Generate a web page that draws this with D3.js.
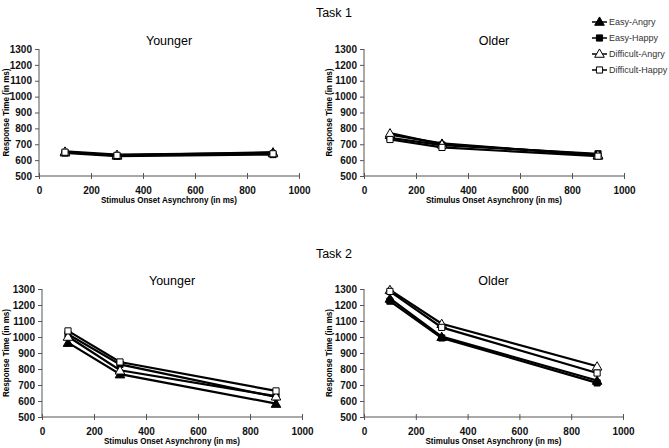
<!DOCTYPE html>
<html><head><meta charset="utf-8">
<script src="https://cdn.jsdelivr.net/npm/d3@7"></script>
<style>body{margin:0;background:#fff}svg{display:block}text{font-family:"Liberation Sans",Arial,sans-serif}</style>
</head><body><svg id="c" width="669" height="448"></svg>
<script>
const soa = [100, 300, 900];
const seriesNames = ["Easy-Angry", "Easy-Happy", "Difficult-Angry", "Difficult-Happy"];
const xTicks = [0, 200, 400, 600, 800, 1000];
const yTicks = [500, 600, 700, 800, 900, 1000, 1100, 1200, 1300];
const task1Younger = [[650, 630, 650], [645, 625, 635], [655, 635, 645], [650, 630, 640]];
const task1Older = [[760, 705, 630], [740, 695, 640], [770, 700, 635], [730, 680, 625]];
const task2Younger = [[965, 768, 584], [1017, 829, 625], [1003, 792, 630], [1038, 844, 663]];
const task2Older = [[1241, 1002, 728], [1224, 994, 713], [1295, 1083, 817], [1285, 1060, 775]];
const panelTitles = ["Younger", "Older", "Younger", "Older"];
const taskTitles = ["Task 1", "Task 2"];

const svg = d3.select("#c");
const panels = [
  {data: task1Younger, x0: 39, x1: 299, y0: 49, y1: 176, yl: 6},
  {data: task1Older, x0: 364, x1: 624, y0: 49, y1: 176, yl: 329},
  {data: task2Younger, x0: 42, x1: 302, y0: 289, y1: 417, yl: 6},
  {data: task2Older, x0: 364, x1: 623, y0: 289, y1: 417, yl: 329}
];

svg.append("text").attr("x", 334).attr("y", 17).attr("text-anchor", "middle").attr("font-size", 12.5).text(taskTitles[0]);
svg.append("text").attr("x", 334).attr("y", 258).attr("text-anchor", "middle").attr("font-size", 12.5).text(taskTitles[1]);

const symFilledTri = d3.symbol().type(d3.symbolTriangle).size(40);
const symSq = d3.symbol().type(d3.symbolSquare).size(38);
const markerShapes = [symFilledTri, symSq, symFilledTri, symSq];
const markerFill = ["#000", "#000", "#fff", "#fff"];
const fmt = d3.format("d");

panels.forEach((p, i) => {
  const g = svg.append("g");
  const x = d3.scaleLinear().domain([0, 1000]).range([p.x0, p.x1]);
  const y = d3.scaleLinear().domain([500, 1300]).range([p.y1, p.y0]);
  g.append("text").attr("x", (p.x0 + p.x1) / 2).attr("y", p.y0 - 4).attr("text-anchor", "middle")
    .attr("font-size", 12.5).text(panelTitles[i]);
  const xa = g.append("g").attr("transform", `translate(0,${p.y1})`)
    .call(d3.axisBottom(x).tickValues(xTicks).tickFormat(fmt).tickSize(3).tickPadding(8));
  xa.selectAll(".tick line").attr("y1", -3).attr("stroke", "#555");
  xa.select(".domain").attr("stroke", "#555").attr("d", `M${p.x0},0H${p.x1}`);
  xa.selectAll("text").attr("font-size", 10).attr("font-weight", "bold").attr("fill", "#111").attr("font-family", "Liberation Sans, Arial");
  const ya = g.append("g").attr("transform", `translate(${p.x0},0)`)
    .call(d3.axisLeft(y).tickValues(yTicks).tickFormat(fmt).tickSize(4).tickPadding(3));
  ya.selectAll(".tick line").attr("stroke", "#555");
  ya.select(".domain").attr("stroke", "#555").attr("d", `M0,${p.y0}V${p.y1}`);
  ya.selectAll("text").attr("font-size", 10).attr("font-weight", "bold").attr("fill", "#111").attr("font-family", "Liberation Sans, Arial");
  g.append("text").attr("x", (p.x0 + p.x1) / 2).attr("y", p.y1 + 27).attr("text-anchor", "middle")
    .attr("font-size", 9).attr("font-weight", "bold").attr("textLength", 136).attr("lengthAdjust", "spacingAndGlyphs")
    .text("Stimulus Onset Asynchrony (in ms)");
  g.append("text").attr("transform", `translate(${p.yl + 3},${(p.y0 + p.y1) / 2}) rotate(-90)`).attr("text-anchor", "middle")
    .attr("font-size", 9).attr("font-weight", "bold").attr("textLength", 88).attr("lengthAdjust", "spacingAndGlyphs")
    .text("Response Time (in ms)");
  const line = d3.line().x((d, k) => x(soa[k])).y(d => y(d));
  p.data.forEach((vals) => {
    g.append("path").attr("d", line(vals)).attr("fill", "none").attr("stroke", "#000").attr("stroke-width", 2.2);
  });
  p.data.forEach((vals, s) => {
    g.selectAll(null).data(vals).enter().append("path")
      .attr("transform", (d, k) => `translate(${x(soa[k])},${y(d) + (s % 2 === 0 ? 1 : 0)})`)
      .attr("d", markerShapes[s]()).attr("fill", markerFill[s]).attr("stroke", "#000").attr("stroke-width", 1);
  });
});

const lg = svg.append("g");
seriesNames.forEach((n, s) => {
  const yy = 22 + s * 16;
  lg.append("line").attr("x1", 592).attr("x2", 607).attr("y1", yy).attr("y2", yy).attr("stroke", "#000").attr("stroke-width", 1.5);
  lg.append("path").attr("transform", `translate(599.5,${yy + (s % 2 === 0 ? 0.5 : 0)})`).attr("d", markerShapes[s]())
    .attr("fill", markerFill[s]).attr("stroke", "#000").attr("stroke-width", 1);
  lg.append("text").attr("x", 609).attr("y", yy + 3).attr("font-size", 9).attr("fill", "#333").text(n);
});
</script></body></html>
